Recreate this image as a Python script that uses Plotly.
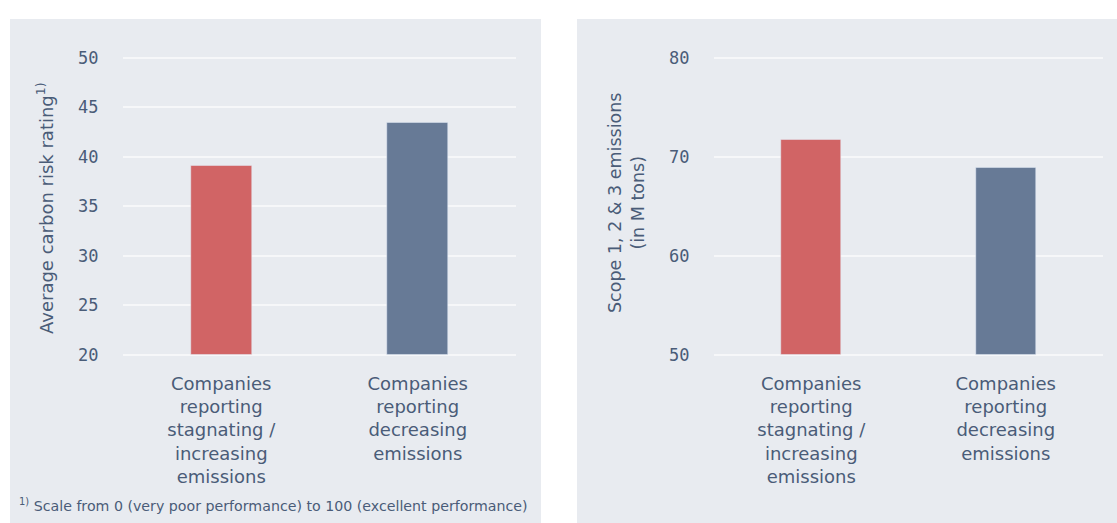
import plotly.graph_objects as go

# Categories and values
categories = [
    "Companies<br>reporting<br>stagnating /<br>increasing<br>emissions",
    "Companies<br>reporting<br>decreasing<br>emissions",
]
carbon_risk_rating = [39.1, 43.4]
scope_emissions = [71.7, 68.9]
bar_colors = ["#d16465", "#677a96"]

left_ticks = [20, 25, 30, 35, 40, 45, 50]
right_ticks = [50, 60, 70, 80]

W, H = 1117, 523
PANEL_BG = "#e8ebf0"
GRID = "#f6f7f9"
TEXT = "#4a5c78"
LABEL_FONT = "DejaVu Sans"
NUM_FONT = "DejaVu Sans Mono"


def px_x(p):
    return p / W


def px_y(p):
    return 1 - p / H


def bar_panel(values, baseline, xa, ya):
    # bars rise from the panel's baseline (bottom tick) up to each value
    return go.Bar(
        x=categories, y=[v - baseline for v in values], base=baseline,
        marker_color=bar_colors, width=0.31, xaxis=xa, yaxis=ya,
        showlegend=False,
        customdata=values, hovertemplate="%{customdata}<extra></extra>",
    )


fig = go.Figure()
fig.add_trace(bar_panel(carbon_risk_rating, left_ticks[0], "x", "y"))
fig.add_trace(bar_panel(scope_emissions, right_ticks[0], "x2", "y2"))

# small pad on both ends of the value range keeps the edge grid lines visible
PAD = 0.3          # in data units (both panels use ~9.9 px per unit)
PX_PER_UNIT = 9.9
y_dom = [px_y(355 + PAD * PX_PER_UNIT), px_y(57.7 - PAD * PX_PER_UNIT)]

xaxis_common = dict(
    showgrid=False, zeroline=False, showline=False, automargin=False,
    ticks="outside", ticklen=12 - PAD * PX_PER_UNIT, tickcolor="rgba(0,0,0,0)",
    tickfont=dict(family=LABEL_FONT, size=18, color=TEXT),
)
yaxis_common = dict(
    showgrid=True, gridcolor=GRID, gridwidth=2, zeroline=False, showline=False,
    automargin=False,
    ticks="outside", ticklen=20, tickcolor="rgba(0,0,0,0)",
    tickfont=dict(family=NUM_FONT, size=17, color=TEXT),
    domain=y_dom,
)

fig.update_layout(
    width=W, height=H,
    margin=dict(l=0, r=0, t=0, b=0, autoexpand=False),
    paper_bgcolor="white",
    plot_bgcolor="rgba(0,0,0,0)",
    bargap=0,
    xaxis=dict(xaxis_common, domain=[px_x(123), px_x(516)], anchor="y"),
    yaxis=dict(yaxis_common, range=[left_ticks[0] - PAD, left_ticks[-1] + PAD],
               tickvals=left_ticks, anchor="x"),
    xaxis2=dict(xaxis_common, domain=[px_x(714), px_x(1103)], anchor="y2"),
    yaxis2=dict(yaxis_common, range=[right_ticks[0] - PAD, right_ticks[-1] + PAD],
                tickvals=right_ticks, anchor="x2"),
    shapes=[
        dict(type="rect", xref="paper", yref="paper", layer="below",
             x0=px_x(10), x1=px_x(541), y0=0, y1=px_y(19),
             fillcolor=PANEL_BG, line_width=0),
        dict(type="rect", xref="paper", yref="paper", layer="below",
             x0=px_x(577), x1=1, y0=0, y1=px_y(19),
             fillcolor=PANEL_BG, line_width=0),
    ],
    annotations=[
        dict(text="Average carbon risk rating<sup>1)</sup>", textangle=-90,
             xref="paper", yref="paper", x=px_x(45), y=px_y(208),
             xanchor="center", yanchor="middle", showarrow=False,
             font=dict(family=LABEL_FONT, size=18, color=TEXT)),
        dict(text="Scope 1, 2 & 3 emissions<br>(in M tons)", textangle=-90,
             xref="paper", yref="paper", x=px_x(626), y=px_y(203),
             xanchor="center", yanchor="middle", showarrow=False,
             font=dict(family=LABEL_FONT, size=17.5, color=TEXT)),
        dict(text="<sup>1)</sup> Scale from 0 (very poor performance) to 100 (excellent performance)",
             xref="paper", yref="paper", x=px_x(17), y=px_y(505),
             xanchor="left", yanchor="middle", showarrow=False,
             font=dict(family=LABEL_FONT, size=14.2, color=TEXT)),
    ],
)

fig.write_html("out.html")
